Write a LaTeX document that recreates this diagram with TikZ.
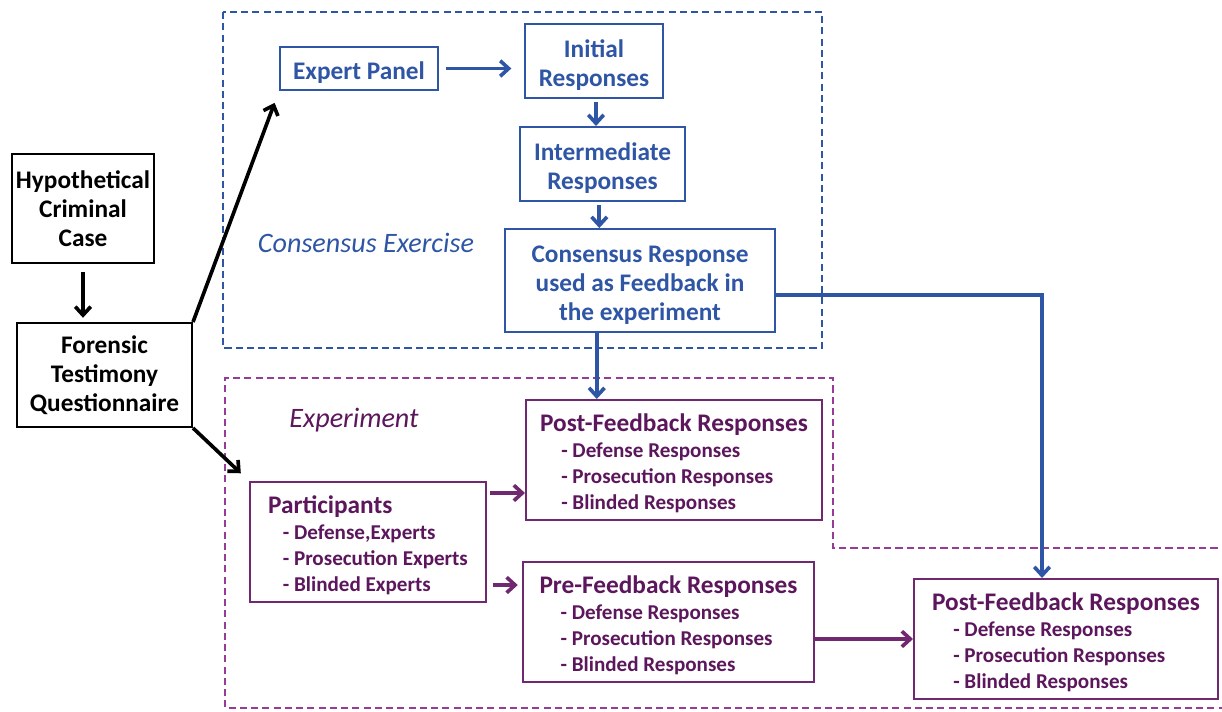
\documentclass[tikz,border=0pt]{standalone}
\usepackage{fontspec}
\setmainfont{Carlito}
\usetikzlibrary{arrows.meta}
\definecolor{c_blue}{RGB}{47,85,165}
\definecolor{c_purple}{RGB}{112,40,112}
\definecolor{c_purple_text}{RGB}{92,22,92}
\definecolor{c_purple_dash}{RGB}{150,60,150}
\newcommand{\topstrut}{\rule{0pt}{0.95em}}
\newcommand{\bluestrut}{\rule{0pt}{1.05em}}
\tikzset{
    box_black/.style={draw=black,line width=1.4pt,inner sep=0pt,align=center,font=\fontsize{18}{20.5}\selectfont\bfseries},
    box_blue/.style={box_black,draw=c_blue,text=c_blue},
    box_purple/.style={draw=c_purple,line width=1.4pt,text=c_purple_text,inner sep=0pt,align=left,minimum height=3cm,font=\fontsize{15}{18.5}\selectfont\bfseries},
    arrow_black/.style={-{Straight Barb[length=6pt,width=11pt]},line width=2.6pt},
    arrow_blue/.style={arrow_black,draw=c_blue},
    arrow_purple/.style={arrow_black,draw=c_purple},
    region/.style={line width=1.1pt,dash pattern=on 5pt off 3pt},
    region_label/.style={font=\fontsize{20}{24}\selectfont\itshape},
}
\newcommand{\titleline}[1]{{\fontsize{18}{20}\selectfont\topstrut #1}}

\begin{document}
\begin{tikzpicture}[x=0.025cm,y=-0.025cm]
  \useasboundingbox (0,0) rectangle (1222,711);
  \draw[region,c_blue] (223,12) rectangle (822,348);
  \draw[region,c_purple_dash] (1240,548) -- (833,548) -- (833,378) -- (225,378) -- (225,708) -- (1240,708);
  \node[region_label,text=c_blue] (lbl_consensus) at (366,243) {Consensus Exercise};
  \node[region_label,text=c_purple_text] (lbl_experiment) at (354,420) {Experiment};
  \node[box_black,minimum width=3.55cm,minimum height=2.725cm] (hypo) at (83,208.5) {Hypothetical\\Criminal\\Case};
  \node[box_black,minimum width=4.375cm,minimum height=2.6cm] (forensic) at (104.5,375) {Forensic\\Testimony\\Questionnaire};
  \node[box_blue,minimum width=3.95cm,minimum height=1.075cm] (expert) at (359,68.5) {\bluestrut Expert Panel};
  \node[box_blue,minimum width=3.45cm,minimum height=1.85cm] (initial) at (594,61) {\bluestrut Initial\\Responses};
  \node[box_blue,minimum width=4.125cm,minimum height=1.85cm] (intermediate) at (602.5,164) {\bluestrut Intermediate\\Responses};
  \node[box_blue,minimum width=6.75cm,minimum height=2.575cm] (consensus) at (640,280.5) {\bluestrut Consensus Response\\used as Feedback in\\the experiment};
  \node[box_purple,minimum width=5.9cm] (participants) at (368,542) {\titleline{Participants}\\
    \hspace*{0.7em}- Defense,Experts\\\hspace*{0.7em}- Prosecution Experts\\\hspace*{0.7em}- Blinded Experts};
  \node[box_purple,minimum width=7.4cm] (post1) at (674,460) {\titleline{Post-Feedback Responses}\\
    \hspace*{1em}- Defense Responses\\\hspace*{1em}- Prosecution Responses\\\hspace*{1em}- Blinded Responses};
  \node[box_purple,minimum width=7.275cm] (pre) at (668.5,622) {\titleline{Pre-Feedback Responses}\\
    \hspace*{1em}- Defense Responses\\\hspace*{1em}- Prosecution Responses\\\hspace*{1em}- Blinded Responses};
  \node[box_purple,minimum width=7.6cm] (post2) at (1066,639) {\titleline{Post-Feedback Responses}\\
    \hspace*{1em}- Defense Responses\\\hspace*{1em}- Prosecution Responses\\\hspace*{1em}- Blinded Responses};
  \coordinate (turn) at (1042,295);
  \draw[arrow_black,shorten <=6pt,shorten >=3pt] (hypo.south) -- (hypo.south |- forensic.north);
  \draw[arrow_black,shorten >=9pt] (forensic.north east) -- (expert.south west);
  \draw[arrow_black,shorten >=8pt] (forensic.south east) -- (participants.north west);
  \draw[arrow_blue,shorten <=5pt,shorten >=9pt] (expert.east) -- (expert.east -| initial.west);
  \draw[arrow_blue,shorten <=2pt] ([xshift=0.05cm]initial.south) -- ([xshift=0.05cm]initial.south |- intermediate.north);
  \draw[arrow_blue,shorten <=2pt] ([xshift=-0.08cm]intermediate.south) -- ([xshift=-0.08cm]intermediate.south |- consensus.north);
  \draw[arrow_blue] ([xshift=-1.08cm]consensus.south) -- ([xshift=-1.08cm]consensus.south |- post1.north);
  \draw[arrow_blue] (consensus.east |- turn) -- (turn) -- (turn |- post2.north);
  \draw[arrow_purple,shorten <=2pt] ([yshift=-0.3cm]participants.north east) -- ([yshift=-0.3cm]participants.north east -| post1.west);
  \draw[arrow_purple,shorten <=4pt,shorten >=3pt] ([yshift=0.45cm]participants.south east) -- ([yshift=0.45cm]participants.south east -| pre.west);
  \draw[arrow_purple] (pre.east |- post2.west) -- (post2.west);
\end{tikzpicture}
\end{document}
